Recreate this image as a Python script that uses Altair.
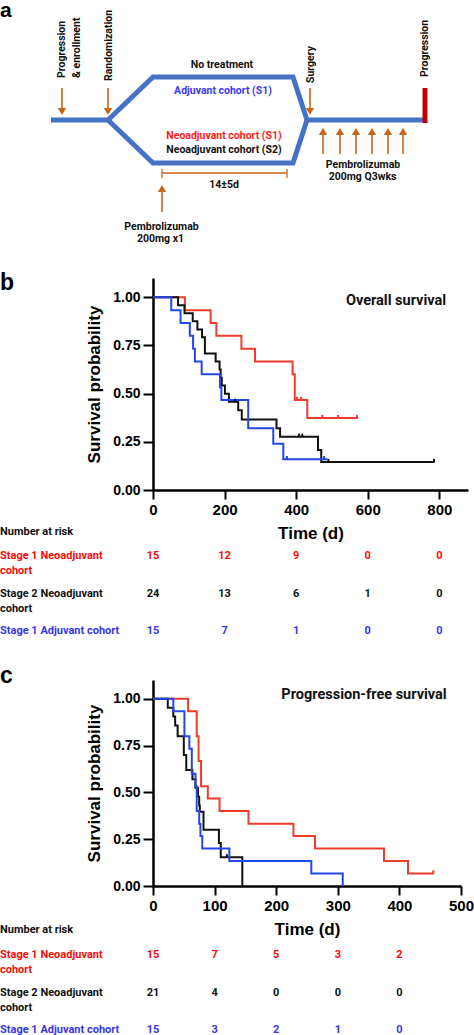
import altair as alt
import pandas as pd

# ---------------- shared categories / styles ----------------
cohorts = ["Stage 1 Neoadjuvant cohort", "Stage 2 Neoadjuvant cohort", "Stage 1 Adjuvant cohort"]
row_labels = ["Stage 1 Neoadjuvant\ncohort", "Stage 2 Neoadjuvant\ncohort", "Stage 1 Adjuvant cohort"]
km_colors = ["#EE3B2B", "#111111", "#2347E8"]
tab_colors = ["#FF0A0A", "#111111", "#3535EE"]
AX_FONT = "Liberation Sans"
TXT_FONT = "Roboto"

# ---------------- Overall survival (step times / survival after step) ----------------
os_red_t = [0, 89, 161, 177, 247, 285, 390, 396, 431, 570]
os_red_s = [1.0, 0.933, 0.867, 0.8, 0.733, 0.667, 0.6, 0.467, 0.373, 0.373]
os_red_cens_t = [402, 414, 473, 517, 570]
os_red_cens_s = [0.467, 0.467, 0.373, 0.373, 0.373]

os_black_t = [0, 70, 88, 111, 124, 137, 145, 175, 186, 189, 192, 201, 212, 238, 248, 345, 355, 461, 470, 785]
os_black_s = [1.0, 0.958, 0.917, 0.875, 0.833, 0.792, 0.708, 0.667, 0.625, 0.583, 0.542, 0.5, 0.458, 0.414, 0.366, 0.32, 0.276, 0.207, 0.145, 0.145]
os_black_cens_t = [229, 408, 417, 490, 785]
os_black_cens_s = [0.458, 0.276, 0.276, 0.145, 0.145]

os_blue_t = [0, 51, 77, 103, 112, 117, 136, 187, 191, 266, 336, 364, 487]
os_blue_s = [1.0, 0.933, 0.867, 0.8, 0.733, 0.667, 0.6, 0.533, 0.467, 0.32, 0.24, 0.16, 0.16]
os_blue_cens_t = [374, 478]
os_blue_cens_s = [0.16, 0.16]

os_xticks = [0, 200, 400, 600, 800]
os_risk_red = [15, 12, 9, 0, 0]
os_risk_black = [24, 13, 6, 1, 0]
os_risk_blue = [15, 7, 1, 0, 0]

# ---------------- Progression-free survival ----------------
pfs_red_t = [0, 57, 71, 74, 78, 89, 108, 155, 228, 263, 375, 414, 455]
pfs_red_s = [1.0, 0.933, 0.8, 0.667, 0.533, 0.467, 0.4, 0.333, 0.267, 0.2, 0.133, 0.067, 0.067]
pfs_red_cens_t = [455]
pfs_red_cens_s = [0.067]

pfs_black_t = [0, 24, 33, 36, 40, 50, 54, 64, 69, 73, 75, 76, 82, 107, 110, 145]
pfs_black_s = [1.0, 0.952, 0.905, 0.857, 0.8, 0.7, 0.62, 0.57, 0.524, 0.476, 0.43, 0.397, 0.3, 0.23, 0.153, 0.0]
pfs_black_cens_t = [120]
pfs_black_cens_s = [0.153]

pfs_blue_t = [0, 33, 51, 59, 63, 69, 71, 75, 77, 80, 124, 257, 308]
pfs_blue_s = [1.0, 0.933, 0.8, 0.733, 0.6, 0.533, 0.4, 0.333, 0.267, 0.2, 0.133, 0.067, 0.0]
pfs_blue_cens_t = []
pfs_blue_cens_s = []

pfs_xticks = [0, 100, 200, 300, 400, 500]
pfs_risk_times = [0, 100, 200, 300, 400]
pfs_risk_red = [15, 7, 5, 3, 2]
pfs_risk_black = [21, 4, 0, 0, 0]
pfs_risk_blue = [15, 3, 2, 1, 0]

# ---------------- Schematic (panel a), drawn in its own pixel-unit scale ----------------
path_upper_x = [51, 108, 153, 293, 307, 425]
path_upper_y = [120, 120, 77, 77, 120, 120]
path_lower_x = [108, 153, 293, 307]
path_lower_y = [120, 163, 163, 120]
down_arrow_x = [62, 108, 310]
up_arrow_x = [323, 340, 356, 372, 388, 403]
top_labels = ["Progression", "& enrollment", "Randomization", "Surgery", "Progression"]
top_label_x = [62, 77, 108.5, 311, 424.5]
top_label_y = [78, 78, 81, 83, 77]
diag_texts = ["No treatment", "Adjuvant cohort (S1)", "Neoadjuvant cohort (S1)", "Neoadjuvant cohort (S2)",
              "14±5d", "Pembrolizumab", "200mg x1", "Pembrolizumab", "200mg Q3wks"]
diag_text_x = [222, 223, 224, 224, 224, 161.5, 160.5, 363, 362.5]
diag_text_y = [68, 94, 139, 153, 188, 230, 242, 168, 180]
diag_text_kind = ["k", "b", "r", "k", "k", "k", "k", "k", "k"]

BLUE_LINE = "#4472C4"
ORANGE = "#C8651B"
DARK_RED = "#C00000"

DX = alt.Scale(domain=[153, 468], nice=False, zero=False)
DY = alt.Scale(domain=[0, 278], nice=False, zero=False, reverse=True)


def dxe(f="x"):
    return alt.X(f + ":Q", scale=DX, axis=None)


def dye(f="y"):
    return alt.Y(f + ":Q", scale=DY, axis=None)


frame = alt.Chart(pd.DataFrame({"x": [0], "x2": [474], "y": [0], "y2": [278]})).mark_rect(opacity=0).encode(
    x=dxe(), x2="x2:Q", y=dye(), y2="y2:Q")

path_df = pd.DataFrame({
    "x": path_upper_x + path_lower_x,
    "y": path_upper_y + path_lower_y,
    "seg": ["u"] * len(path_upper_x) + ["l"] * len(path_lower_x),
    "i": list(range(len(path_upper_x))) + list(range(len(path_lower_x))),
})
paths = alt.Chart(path_df).mark_line(color=BLUE_LINE, strokeWidth=5, strokeJoin="miter", strokeCap="butt").encode(
    x=dxe(), y=dye(), detail="seg:N", order="i:Q")

red_bar = alt.Chart(pd.DataFrame({"x": [425], "y": [88], "y2": [123]})).mark_rule(
    color=DARK_RED, strokeWidth=5).encode(x=dxe(), y=dye(), y2="y2:Q")

shafts_df = pd.DataFrame({
    "x": down_arrow_x + up_arrow_x + [162],
    "y": [88] * len(down_arrow_x) + [154] * len(up_arrow_x) + [212],
    "y2": [110] * len(down_arrow_x) + [133] * len(up_arrow_x) + [190],
})
shafts = alt.Chart(shafts_df).mark_rule(color=ORANGE, strokeWidth=1.6).encode(x=dxe(), y=dye(), y2="y2:Q")

heads_down = alt.Chart(pd.DataFrame({"x": down_arrow_x, "y": [111.5] * len(down_arrow_x)})).mark_point(
    shape="triangle-down", filled=True, color=ORANGE, size=70, opacity=1).encode(x=dxe(), y=dye())
heads_up = alt.Chart(pd.DataFrame({"x": up_arrow_x + [162], "y": [131.5] * len(up_arrow_x) + [188.5]})).mark_point(
    shape="triangle-up", filled=True, color=ORANGE, size=70, opacity=1).encode(x=dxe(), y=dye())

range_h = alt.Chart(pd.DataFrame({"x": [162], "x2": [287], "y": [173]})).mark_rule(
    color=ORANGE, strokeWidth=1.3).encode(x=dxe(), x2="x2:Q", y=dye())
range_caps = alt.Chart(pd.DataFrame({"x": [162, 287], "y": [169, 169], "y2": [178, 178]})).mark_rule(
    color=ORANGE, strokeWidth=1.3).encode(x=dxe(), y=dye(), y2="y2:Q")

top_lab = alt.Chart(pd.DataFrame({"x": top_label_x, "y": top_label_y, "t": top_labels})).mark_text(
    angle=270, align="left", baseline="middle", font=TXT_FONT, fontWeight="bold", fontSize=10.5, color="#111111"
).encode(x=dxe(), y=dye(), text="t:N")

dtext = alt.Chart(pd.DataFrame({"x": diag_text_x, "y": diag_text_y, "t": diag_texts, "k": diag_text_kind})).mark_text(
    align="center", baseline="alphabetic", font=TXT_FONT, fontWeight="bold", fontSize=10.5
).encode(x=dxe(), y=dye(), text="t:N",
         color=alt.Color("k:N", scale=alt.Scale(domain=["k", "b", "r"], range=["#111111", "#3A3AF0", "#FF1A1A"]),
                         legend=None))

letter_a = alt.Chart(pd.DataFrame({"x": [0], "y": [17], "t": ["a"]})).mark_text(
    align="left", baseline="alphabetic", font=AX_FONT, fontWeight="bold", fontSize=21, color="black"
).encode(x=dxe(), y=dye(), text="t:N")

diagram = alt.layer(frame, paths, red_bar, shafts, heads_down, heads_up, range_h, range_caps,
                    top_lab, dtext, letter_a).properties(width=315, height=278)


# ---------------- KM panels ----------------
def curve_df(groups):
    rows = []
    for name, ts, ss in groups:
        for t, s in zip(ts, ss):
            rows.append({"t": t, "s": s, "cohort": name})
    return pd.DataFrame(rows)


def km_panel(curves, cens, xmax, xticks, width, height, title, title_x, title_y, letter, letter_x, letter_y):
    x = alt.X("t:Q", scale=alt.Scale(domain=[0, xmax], nice=False),
              axis=alt.Axis(values=xticks, title="Time (d)", grid=False, domainColor="black", domainWidth=2.5,
                            tickColor="black", tickWidth=2, tickSize=9, labelPadding=3,
                            labelFont=AX_FONT, labelFontWeight="bold", labelFontSize=15, labelColor="black",
                            titleFont=AX_FONT, titleFontWeight="bold", titleFontSize=17, titleColor="black",
                            titlePadding=8, labelFlush=False))
    y = alt.Y("s:Q", scale=alt.Scale(domain=[0, 1.1], nice=False),
              axis=alt.Axis(values=[0, 0.25, 0.5, 0.75, 1.0], format=".2f", title="Survival probability",
                            grid=False, domainColor="black", domainWidth=2.5, tickColor="black", tickWidth=2,
                            tickSize=10, labelPadding=3, labelFont=AX_FONT, labelFontWeight="bold",
                            labelFontSize=14, labelColor="black", titleFont=AX_FONT, titleFontWeight="bold",
                            titleFontSize=17, titleColor="black", titlePadding=9, labelFlush=False))
    color = alt.Color("cohort:N", scale=alt.Scale(domain=cohorts, range=km_colors), legend=None)
    lines = alt.Chart(curves).mark_line(interpolate="step-after", strokeWidth=2).encode(
        x=x, y=y, color=color, detail="cohort:N")
    ticks = alt.Chart(cens).mark_point(shape="M0,-1L0,0.2", size=40, strokeWidth=2, filled=False, opacity=1).encode(
        x=x, y=y, color=color)
    ttl = alt.Chart(pd.DataFrame({"t": [title]})).mark_text(
        align="center", baseline="alphabetic", font=TXT_FONT, fontWeight="bold", fontSize=14.5, color="#111111"
    ).encode(x=alt.value(title_x), y=alt.value(title_y), text="t:N")
    let = alt.Chart(pd.DataFrame({"t": [letter]})).mark_text(
        align="left", baseline="alphabetic", font=AX_FONT, fontWeight="bold", fontSize=23, color="black"
    ).encode(x=alt.value(letter_x), y=alt.value(letter_y), text="t:N")
    return alt.layer(lines, ticks, ttl, let).properties(width=width, height=height)


def risk_panel(times, counts, xmax, width, height, header_y, row_range):
    rows = []
    for name, cs in zip(cohorts, counts):
        for t, n in zip(times, cs):
            rows.append({"t": t, "n": n, "cohort": name})
    df = pd.DataFrame(rows)
    lab = pd.DataFrame({"cohort": cohorts, "label": row_labels})
    x = alt.X("t:Q", scale=alt.Scale(domain=[0, xmax], nice=False), axis=None)
    y = alt.Y("cohort:N", scale=alt.Scale(type="point", domain=cohorts, range=row_range, padding=0), axis=None)
    color = alt.Color("cohort:N", scale=alt.Scale(domain=cohorts, range=tab_colors), legend=None)
    nums = alt.Chart(df).mark_text(align="center", baseline="alphabetic", font=TXT_FONT, fontWeight="bold",
                                   fontSize=11).encode(x=x, y=y, text="n:N", color=color)
    labels = alt.Chart(lab).mark_text(align="left", baseline="alphabetic", font=TXT_FONT, fontWeight="bold",
                                      fontSize=11, lineBreak="\n", lineHeight=15).encode(
        x=alt.value(-153), y=y, text="label:N", color=color)
    header = alt.Chart(pd.DataFrame({"t": ["Number at risk"]})).mark_text(
        align="left", baseline="alphabetic", font=TXT_FONT, fontWeight="bold", fontSize=11, color="#111111"
    ).encode(x=alt.value(-153), y=alt.value(header_y), text="t:N")
    return alt.layer(nums, labels, header).properties(width=width, height=height)


os_curves = curve_df([(cohorts[0], os_red_t, os_red_s), (cohorts[1], os_black_t, os_black_s),
                      (cohorts[2], os_blue_t, os_blue_s)])
os_cens = curve_df([(cohorts[0], os_red_cens_t, os_red_cens_s), (cohorts[1], os_black_cens_t, os_black_cens_s),
                    (cohorts[2], os_blue_cens_t, os_blue_cens_s)])
pfs_curves = curve_df([(cohorts[0], pfs_red_t, pfs_red_s), (cohorts[1], pfs_black_t, pfs_black_s),
                       (cohorts[2], pfs_blue_t, pfs_blue_s)])
pfs_cens = curve_df([(cohorts[0], pfs_red_cens_t, pfs_red_cens_s), (cohorts[1], pfs_black_cens_t, pfs_black_cens_s),
                     (cohorts[2], pfs_blue_cens_t, pfs_blue_cens_s)])

os_plot = km_panel(os_curves, os_cens, 880, os_xticks, 315, 212, "Overall survival", 243, 27, "b", -153, 12)
os_table = risk_panel(os_xticks, [os_risk_red, os_risk_black, os_risk_blue], 880, 315, 190, 45, [69, 144])
pfs_plot = km_panel(pfs_curves, pfs_cens, 500, pfs_xticks, 308, 206, "Progression-free survival", 211, 19,
                    "c", -153, 3)
pfs_table = risk_panel(pfs_risk_times, [pfs_risk_red, pfs_risk_black, pfs_risk_blue], 500, 308, 149, 47, [72, 147])

chart = alt.vconcat(diagram, os_plot, os_table, pfs_plot, pfs_table, spacing=0, bounds="flush").resolve_scale(
    x="independent", y="independent", color="independent"
).properties(padding={"left": 0, "top": 0, "right": 0, "bottom": 0}, background="white").configure_view(stroke=None)

chart.save("out.html", embed_options={"renderer": "svg", "actions": False})
